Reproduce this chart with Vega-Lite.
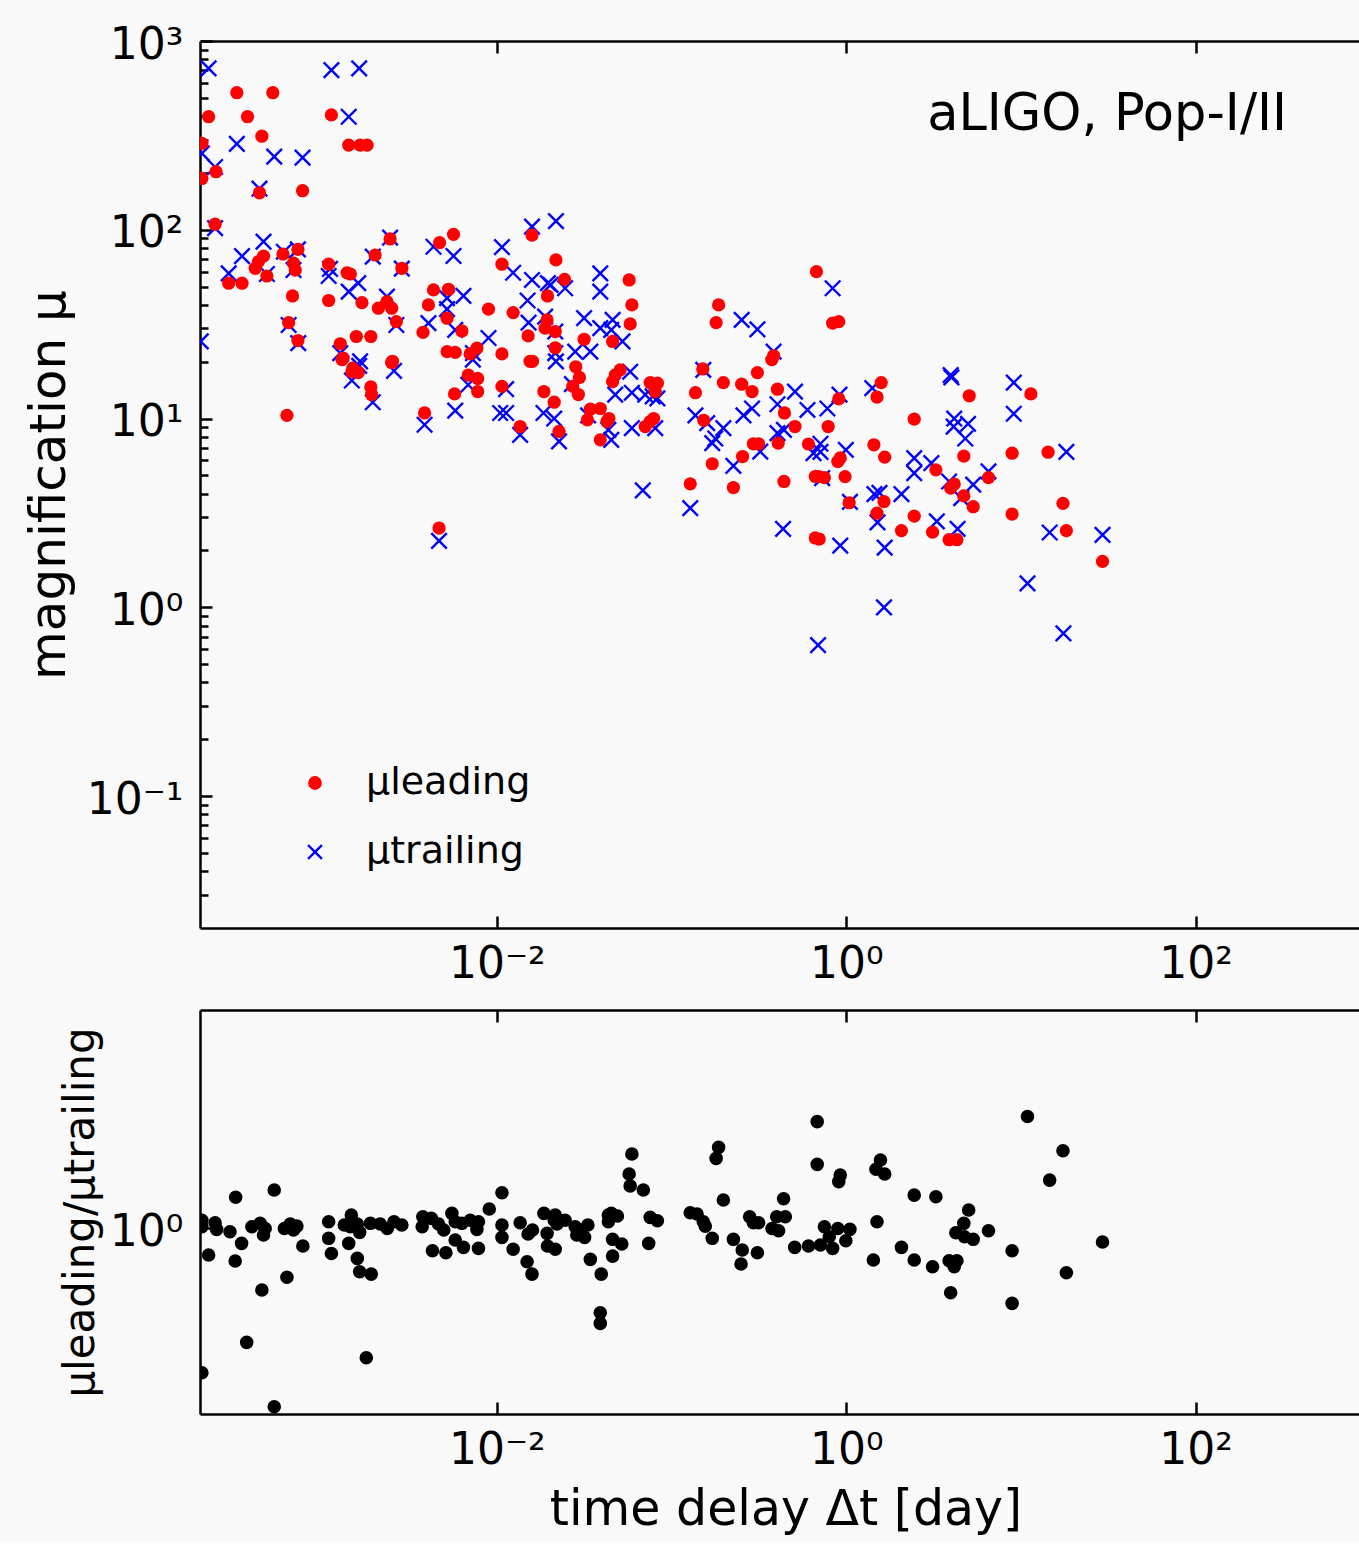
{
  "$schema": "https://vega.github.io/schema/vega-lite/v6.json",
  "background": "#f9f9f9",
  "padding": {"left": 24, "top": 23, "right": 0, "bottom": 8},
  "bounds": "flush",
  "spacing": 82,
  "config": {
    "font": "DejaVu Sans",
    "view": {"stroke": null},
    "axis": {"grid": false, "domainColor": "#000", "domainWidth": 2.5, "tickColor": "#000", "tickWidth": 2.5, "labelColor": "#000", "titleColor": "#000", "labelFont": "DejaVu Sans", "titleFont": "DejaVu Sans", "titleFontWeight": "normal", "labelFontSize": 44, "titleFontSize": 50, "labelFlush": false, "labelOverlap": false, "zindex": 1}
  },
  "datasets": {
    "leading": [
      {"t":3.25e-4,"mu":532,"series":"μleading"},{"t":5.22e-4,"mu":532,"series":"μleading"},{"t":2.24e-4,"mu":397,"series":"μleading"},{"t":3.74e-4,"mu":397,"series":"μleading"},{"t":1.13e-3,"mu":406,"series":"μleading"},{"t":4.52e-4,"mu":313,"series":"μleading"},{"t":2.05e-4,"mu":287,"series":"μleading"},{"t":1.42e-3,"mu":281,"series":"μleading"},{"t":1.65e-3,"mu":281,"series":"μleading"},{"t":1.81e-3,"mu":281,"series":"μleading"},
      {"t":2.47e-4,"mu":203,"series":"μleading"},{"t":2.05e-4,"mu":187,"series":"μleading"},{"t":4.38e-4,"mu":157,"series":"μleading"},{"t":7.73e-4,"mu":161,"series":"μleading"},{"t":2.44e-4,"mu":107,"series":"μleading"},{"t":5.65e-3,"mu":94.6,"series":"μleading"},{"t":2.45e-3,"mu":89.4,"series":"μleading"},{"t":4.70e-3,"mu":85.5,"series":"μleading"},{"t":7.27e-4,"mu":78.7,"series":"μleading"},{"t":5.97e-4,"mu":74.4,"series":"μleading"},
      {"t":4.62e-4,"mu":72.5,"series":"μleading"},{"t":4.32e-4,"mu":67.8,"series":"μleading"},{"t":4.14e-4,"mu":62.5,"series":"μleading"},{"t":6.86e-4,"mu":66.5,"series":"μleading"},{"t":7.02e-4,"mu":61.2,"series":"μleading"},{"t":4.83e-4,"mu":56.9,"series":"μleading"},{"t":2.92e-4,"mu":52.1,"series":"μleading"},{"t":3.48e-4,"mu":52.1,"series":"μleading"},{"t":1.09e-3,"mu":65.7,"series":"μleading"},{"t":1.39e-3,"mu":59.2,"series":"μleading"},
      {"t":1.45e-3,"mu":58.3,"series":"μleading"},{"t":2.01e-3,"mu":73.5,"series":"μleading"},{"t":2.86e-3,"mu":62.5,"series":"μleading"},{"t":1.07e-2,"mu":65.7,"series":"μleading"},{"t":1.24e-2,"mu":36.4,"series":"μleading"},{"t":1.09e-3,"mu":42.2,"series":"μleading"},{"t":6.77e-4,"mu":44.6,"series":"μleading"},{"t":1.69e-3,"mu":41.1,"series":"μleading"},{"t":2.10e-3,"mu":38.4,"series":"μleading"},{"t":2.35e-3,"mu":41.6,"series":"μleading"},
      {"t":2.50e-3,"mu":38.4,"series":"μleading"},{"t":2.66e-3,"mu":32.6,"series":"μleading"},{"t":4.34e-3,"mu":48.0,"series":"μleading"},{"t":5.29e-3,"mu":48.4,"series":"μleading"},{"t":4.06e-3,"mu":40.0,"series":"μleading"},{"t":5.19e-3,"mu":34.0,"series":"μleading"},{"t":6.31e-3,"mu":29.1,"series":"μleading"},{"t":8.96e-3,"mu":38.0,"series":"μleading"},{"t":3.78e-3,"mu":28.6,"series":"μleading"},{"t":6.43e-4,"mu":32.2,"series":"μleading"},
      {"t":7.27e-4,"mu":25.9,"series":"μleading"},{"t":1.57e-3,"mu":27.2,"series":"μleading"},{"t":1.90e-3,"mu":27.2,"series":"μleading"},{"t":1.27e-3,"mu":24.9,"series":"μleading"},{"t":1.32e-3,"mu":20.9,"series":"μleading"},{"t":5.19e-3,"mu":22.6,"series":"μleading"},{"t":5.78e-3,"mu":22.4,"series":"μleading"},{"t":7.04e-3,"mu":22.0,"series":"μleading"},{"t":7.69e-3,"mu":23.6,"series":"μleading"},{"t":1.07e-2,"mu":22.0,"series":"μleading"},
      {"t":2.53e-3,"mu":20.1,"series":"μleading"},{"t":1.50e-3,"mu":18.5,"series":"μleading"},{"t":1.59e-2,"mu":93.8,"series":"μleading"},{"t":2.18e-2,"mu":69.2,"series":"μleading"},{"t":2.44e-2,"mu":54.6,"series":"μleading"},{"t":5.72e-2,"mu":54.2,"series":"μleading"},{"t":1.95e-2,"mu":44.6,"series":"μleading"},{"t":5.93e-2,"mu":40.0,"series":"μleading"},{"t":1.94e-2,"mu":33.3,"series":"μleading"},{"t":1.89e-2,"mu":30.1,"series":"μleading"},
      {"t":2.16e-2,"mu":28.9,"series":"μleading"},{"t":5.80e-2,"mu":31.7,"series":"μleading"},{"t":0.186,"mu":40.0,"series":"μleading"},{"t":0.180,"mu":32.2,"series":"μleading"},{"t":1.51e-2,"mu":27.4,"series":"μleading"},{"t":3.16e-2,"mu":26.3,"series":"μleading"},{"t":4.60e-2,"mu":25.6,"series":"μleading"},{"t":2.16e-2,"mu":23.7,"series":"μleading"},{"t":0.384,"mu":21.5,"series":"μleading"},{"t":0.675,"mu":60.0,"series":"μleading"},
      {"t":0.836,"mu":32.0,"series":"μleading"},{"t":0.906,"mu":32.6,"series":"μleading"},{"t":1.55e-2,"mu":20.1,"series":"μleading"},{"t":1.60e-2,"mu":20.1,"series":"μleading"},{"t":2.83e-2,"mu":18.8,"series":"μleading"},{"t":2.97e-2,"mu":16.5,"series":"μleading"},{"t":2.72e-2,"mu":14.8,"series":"μleading"},{"t":2.93e-2,"mu":13.4,"series":"μleading"},{"t":1.86e-2,"mu":13.9,"series":"μleading"},{"t":2.13e-2,"mu":12.2,"series":"μleading"},
      {"t":4.76e-2,"mu":17.0,"series":"μleading"},{"t":5.08e-2,"mu":18.1,"series":"μleading"},{"t":4.60e-2,"mu":15.7,"series":"μleading"},{"t":7.55e-2,"mu":15.5,"series":"μleading"},{"t":8.30e-2,"mu":15.4,"series":"μleading"},{"t":8.07e-2,"mu":13.9,"series":"μleading"},{"t":3.43e-2,"mu":11.2,"series":"μleading"},{"t":3.91e-2,"mu":11.3,"series":"μleading"},{"t":3.30e-2,"mu":9.84,"series":"μleading"},{"t":4.38e-2,"mu":10.0,"series":"μleading"},
      {"t":4.27e-2,"mu":9.64,"series":"μleading"},{"t":7.07e-2,"mu":9.07,"series":"μleading"},{"t":7.55e-2,"mu":9.64,"series":"μleading"},{"t":7.90e-2,"mu":10.0,"series":"μleading"},{"t":1.36e-2,"mu":9.07,"series":"μleading"},{"t":2.27e-2,"mu":8.54,"series":"μleading"},{"t":3.91e-2,"mu":7.71,"series":"μleading"},{"t":0.151,"mu":18.3,"series":"μleading"},{"t":0.198,"mu":15.5,"series":"μleading"},{"t":0.252,"mu":15.2,"series":"μleading"},
      {"t":0.289,"mu":13.9,"series":"μleading"},{"t":0.310,"mu":17.5,"series":"μleading"},{"t":0.137,"mu":13.7,"series":"μleading"},{"t":0.153,"mu":9.77,"series":"μleading"},{"t":0.404,"mu":14.3,"series":"μleading"},{"t":0.443,"mu":10.7,"series":"μleading"},{"t":0.509,"mu":9.07,"series":"μleading"},{"t":0.294,"mu":7.35,"series":"μleading"},{"t":0.315,"mu":7.35,"series":"μleading"},{"t":0.255,"mu":6.29,"series":"μleading"},
      {"t":0.408,"mu":7.41,"series":"μleading"},{"t":0.608,"mu":7.33,"series":"μleading"},{"t":0.171,"mu":5.76,"series":"μleading"},{"t":0.128,"mu":4.51,"series":"μleading"},{"t":0.226,"mu":4.31,"series":"μleading"},{"t":0.440,"mu":4.64,"series":"μleading"},{"t":0.665,"mu":4.93,"series":"μleading"},{"t":0.665,"mu":2.33,"series":"μleading"},{"t":0.375,"mu":20.5,"series":"μleading"},{"t":6.29e-4,"mu":10.4,"series":"μleading"},
      {"t":3.86e-3,"mu":10.7,"series":"μleading"},{"t":5.73e-3,"mu":13.5,"series":"μleading"},{"t":6.86e-3,"mu":17.0,"series":"μleading"},{"t":7.77e-3,"mu":16.3,"series":"μleading"},{"t":7.77e-3,"mu":13.9,"series":"μleading"},{"t":1.07e-2,"mu":14.8,"series":"μleading"},{"t":2.50e-3,"mu":19.8,"series":"μleading"},{"t":1.48e-3,"mu":17.7,"series":"μleading"},{"t":1.61e-3,"mu":17.5,"series":"μleading"},{"t":1.90e-3,"mu":14.7,"series":"μleading"},
      {"t":1.92e-3,"mu":13.4,"series":"μleading"},{"t":1.30e-3,"mu":20.5,"series":"μleading"},{"t":4.67e-3,"mu":2.63,"series":"μleading"},{"t":1.586,"mu":15.5,"series":"μleading"},{"t":1.50,"mu":13.0,"series":"μleading"},{"t":0.906,"mu":12.7,"series":"μleading"},{"t":5.06,"mu":13.2,"series":"μleading"},{"t":11.4,"mu":13.5,"series":"μleading"},{"t":2.45,"mu":9.92,"series":"μleading"},{"t":0.788,"mu":9.07,"series":"μleading"},
      {"t":1.44,"mu":7.26,"series":"μleading"},{"t":1.66,"mu":6.24,"series":"μleading"},{"t":4.71,"mu":6.32,"series":"μleading"},{"t":8.9,"mu":6.55,"series":"μleading"},{"t":14.3,"mu":6.63,"series":"μleading"},{"t":0.895,"mu":5.92,"series":"μleading"},{"t":0.924,"mu":6.18,"series":"μleading"},{"t":3.26,"mu":5.35,"series":"μleading"},{"t":0.696,"mu":4.92,"series":"μleading"},{"t":0.75,"mu":4.86,"series":"μleading"},
      {"t":0.985,"mu":4.92,"series":"μleading"},{"t":6.52,"mu":4.86,"series":"μleading"},{"t":3.96,"mu":4.28,"series":"μleading"},{"t":4.15,"mu":4.5,"series":"μleading"},{"t":4.71,"mu":3.89,"series":"μleading"},{"t":5.33,"mu":3.41,"series":"μleading"},{"t":1.04,"mu":3.58,"series":"μleading"},{"t":1.645,"mu":3.63,"series":"μleading"},{"t":1.50,"mu":3.15,"series":"μleading"},{"t":2.45,"mu":3.04,"series":"μleading"},
      {"t":8.9,"mu":3.12,"series":"μleading"},{"t":17.4,"mu":3.55,"series":"μleading"},{"t":2.07,"mu":2.55,"series":"μleading"},{"t":3.12,"mu":2.5,"series":"μleading"},{"t":3.88,"mu":2.28,"series":"μleading"},{"t":4.3,"mu":2.28,"series":"μleading"},{"t":0.70,"mu":2.3,"series":"μleading"},{"t":18.2,"mu":2.55,"series":"μleading"},{"t":29.3,"mu":1.75,"series":"μleading"}
    ],
    "trailing": [
      {"t":2.24e-4,"mu":716,"series":"μtrailing"},{"t":1.13e-3,"mu":701,"series":"μtrailing"},{"t":1.63e-3,"mu":716,"series":"μtrailing"},{"t":1.42e-3,"mu":397,"series":"μtrailing"},{"t":3.25e-4,"mu":285,"series":"μtrailing"},{"t":5.32e-4,"mu":244,"series":"μtrailing"},{"t":7.73e-4,"mu":241,"series":"μtrailing"},{"t":2.05e-4,"mu":254,"series":"μtrailing"},{"t":2.44e-4,"mu":215,"series":"μtrailing"},{"t":4.38e-4,"mu":165,"series":"μtrailing"},
      {"t":2.44e-4,"mu":102,"series":"μtrailing"},{"t":4.62e-4,"mu":86.5,"series":"μtrailing"},{"t":3.48e-4,"mu":72.5,"series":"μtrailing"},{"t":2.92e-4,"mu":58.8,"series":"μtrailing"},{"t":6.04e-4,"mu":76.5,"series":"μtrailing"},{"t":7.27e-4,"mu":78.7,"series":"μtrailing"},{"t":4.83e-4,"mu":58.3,"series":"μtrailing"},{"t":6.86e-4,"mu":61.2,"series":"μtrailing"},{"t":1.09e-3,"mu":56.9,"series":"μtrailing"},{"t":1.11e-3,"mu":62,"series":"μtrailing"},
      {"t":1.42e-3,"mu":47.0,"series":"μtrailing"},{"t":1.61e-3,"mu":52.1,"series":"μtrailing"},{"t":1.95e-3,"mu":72.0,"series":"μtrailing"},{"t":2.45e-3,"mu":90.8,"series":"μtrailing"},{"t":2.86e-3,"mu":62.2,"series":"μtrailing"},{"t":4.34e-3,"mu":81.3,"series":"μtrailing"},{"t":5.65e-3,"mu":72.6,"series":"μtrailing"},{"t":1.07e-2,"mu":81,"series":"μtrailing"},{"t":1.24e-2,"mu":59.2,"series":"μtrailing"},{"t":2.35e-3,"mu":44.2,"series":"μtrailing"},
      {"t":5.19e-3,"mu":43.4,"series":"μtrailing"},{"t":6.44e-3,"mu":44.6,"series":"μtrailing"},{"t":4.06e-3,"mu":32.0,"series":"μtrailing"},{"t":5.78e-3,"mu":29.5,"series":"μtrailing"},{"t":8.96e-3,"mu":26.7,"series":"μtrailing"},{"t":2.66e-3,"mu":31.3,"series":"μtrailing"},{"t":6.43e-4,"mu":31.3,"series":"μtrailing"},{"t":7.30e-4,"mu":25.1,"series":"μtrailing"},{"t":1.27e-3,"mu":22.2,"series":"μtrailing"},{"t":1.65e-3,"mu":20.1,"series":"μtrailing"},
      {"t":7.30e-3,"mu":22.2,"series":"μtrailing"},{"t":2.02e-4,"mu":25.6,"series":"μtrailing"},{"t":5.19e-3,"mu":38,"series":"μtrailing"},{"t":2.18e-2,"mu":111,"series":"μtrailing"},{"t":1.59e-2,"mu":104,"series":"μtrailing"},{"t":1.59e-2,"mu":54.2,"series":"μtrailing"},{"t":1.96e-2,"mu":52.1,"series":"μtrailing"},{"t":2.03e-2,"mu":51.1,"series":"μtrailing"},{"t":2.46e-2,"mu":49.0,"series":"μtrailing"},{"t":3.91e-2,"mu":58.8,"series":"μtrailing"},
      {"t":3.91e-2,"mu":47.0,"series":"μtrailing"},{"t":1.50e-2,"mu":42.2,"series":"μtrailing"},{"t":1.52e-2,"mu":32.2,"series":"μtrailing"},{"t":1.89e-2,"mu":34.7,"series":"μtrailing"},{"t":2.16e-2,"mu":28.9,"series":"μtrailing"},{"t":3.16e-2,"mu":34.0,"series":"μtrailing"},{"t":3.91e-2,"mu":30.1,"series":"μtrailing"},{"t":4.60e-2,"mu":33.3,"series":"μtrailing"},{"t":4.52e-2,"mu":29.5,"series":"μtrailing"},{"t":5.24e-2,"mu":25.6,"series":"μtrailing"},
      {"t":2.81e-2,"mu":22.6,"series":"μtrailing"},{"t":3.43e-2,"mu":22.6,"series":"μtrailing"},{"t":2.16e-2,"mu":22.2,"series":"μtrailing"},{"t":0.252,"mu":33.3,"series":"μtrailing"},{"t":0.310,"mu":29.7,"series":"μtrailing"},{"t":0.384,"mu":22.6,"series":"μtrailing"},{"t":2.18e-2,"mu":20.1,"series":"μtrailing"},{"t":5.80e-2,"mu":17.7,"series":"μtrailing"},{"t":2.69e-2,"mu":15.2,"series":"μtrailing"},{"t":1.13e-2,"mu":14.3,"series":"μtrailing"},
      {"t":4.76e-2,"mu":13.4,"series":"μtrailing"},{"t":5.93e-2,"mu":13.7,"series":"μtrailing"},{"t":7.07e-2,"mu":13.4,"series":"μtrailing"},{"t":7.80e-2,"mu":13.1,"series":"μtrailing"},{"t":8.30e-2,"mu":12.8,"series":"μtrailing"},{"t":1.85e-2,"mu":10.7,"series":"μtrailing"},{"t":2.13e-2,"mu":10.0,"series":"μtrailing"},{"t":1.13e-2,"mu":10.7,"series":"μtrailing"},{"t":1.36e-2,"mu":8.2,"series":"μtrailing"},{"t":2.27e-2,"mu":7.56,"series":"μtrailing"},
      {"t":3.33e-2,"mu":10.4,"series":"μtrailing"},{"t":4.52e-2,"mu":7.71,"series":"μtrailing"},{"t":4.35e-2,"mu":8.71,"series":"μtrailing"},{"t":5.93e-2,"mu":8.89,"series":"μtrailing"},{"t":8.07e-2,"mu":8.89,"series":"μtrailing"},{"t":0.152,"mu":18.1,"series":"μtrailing"},{"t":0.137,"mu":10.4,"series":"μtrailing"},{"t":0.160,"mu":9.46,"series":"μtrailing"},{"t":0.198,"mu":8.89,"series":"μtrailing"},{"t":0.178,"mu":7.84,"series":"μtrailing"},
      {"t":0.171,"mu":7.41,"series":"μtrailing"},{"t":0.258,"mu":10.4,"series":"μtrailing"},{"t":0.289,"mu":11.3,"series":"μtrailing"},{"t":0.404,"mu":11.9,"series":"μtrailing"},{"t":0.509,"mu":13.9,"series":"μtrailing"},{"t":0.600,"mu":11.1,"series":"μtrailing"},{"t":0.440,"mu":8.71,"series":"μtrailing"},{"t":0.404,"mu":8.36,"series":"μtrailing"},{"t":0.322,"mu":6.68,"series":"μtrailing"},{"t":0.226,"mu":5.61,"series":"μtrailing"},
      {"t":0.650,"mu":6.55,"series":"μtrailing"},{"t":0.0685,"mu":4.16,"series":"μtrailing"},{"t":0.128,"mu":3.35,"series":"μtrailing"},{"t":0.435,"mu":2.6,"series":"μtrailing"},{"t":0.69,"mu":0.63,"series":"μtrailing"},{"t":3.96,"mu":17.0,"series":"μtrailing"},{"t":4.0,"mu":16.5,"series":"μtrailing"},{"t":9.1,"mu":15.5,"series":"μtrailing"},{"t":1.41,"mu":14.5,"series":"μtrailing"},{"t":0.915,"mu":13.4,"series":"μtrailing"},
      {"t":0.78,"mu":11.3,"series":"μtrailing"},{"t":9.1,"mu":10.6,"series":"μtrailing"},{"t":4.15,"mu":10.0,"series":"μtrailing"},{"t":4.12,"mu":9.07,"series":"μtrailing"},{"t":4.98,"mu":9.38,"series":"μtrailing"},{"t":4.8,"mu":7.84,"series":"μtrailing"},{"t":0.712,"mu":7.35,"series":"μtrailing"},{"t":0.712,"mu":6.66,"series":"μtrailing"},{"t":0.995,"mu":6.82,"series":"μtrailing"},{"t":18.2,"mu":6.66,"series":"μtrailing"},
      {"t":2.45,"mu":6.17,"series":"μtrailing"},{"t":2.45,"mu":5.14,"series":"μtrailing"},{"t":3.07,"mu":5.8,"series":"μtrailing"},{"t":6.52,"mu":5.25,"series":"μtrailing"},{"t":3.88,"mu":4.64,"series":"μtrailing"},{"t":5.33,"mu":4.47,"series":"μtrailing"},{"t":0.728,"mu":4.83,"series":"μtrailing"},{"t":1.55,"mu":4.04,"series":"μtrailing"},{"t":1.45,"mu":3.98,"series":"μtrailing"},{"t":2.07,"mu":3.98,"series":"μtrailing"},
      {"t":1.05,"mu":3.62,"series":"μtrailing"},{"t":4.55,"mu":3.79,"series":"μtrailing"},{"t":1.51,"mu":2.82,"series":"μtrailing"},{"t":3.30,"mu":2.85,"series":"μtrailing"},{"t":4.34,"mu":2.6,"series":"μtrailing"},{"t":14.6,"mu":2.49,"series":"μtrailing"},{"t":29.3,"mu":2.42,"series":"μtrailing"},{"t":0.924,"mu":2.12,"series":"μtrailing"},{"t":1.66,"mu":2.07,"series":"μtrailing"},{"t":10.9,"mu":1.34,"series":"μtrailing"},
      {"t":1.645,"mu":1.0,"series":"μtrailing"},{"t":17.5,"mu":0.728,"series":"μtrailing"},{"t":1.48e-3,"mu":15.9,"series":"μtrailing"},{"t":1.63e-3,"mu":19.0,"series":"μtrailing"},{"t":2.58e-3,"mu":17.9,"series":"μtrailing"},{"t":1.95e-3,"mu":12.2,"series":"μtrailing"},{"t":3.86e-3,"mu":9.27,"series":"μtrailing"},{"t":5.78e-3,"mu":11.0,"series":"μtrailing"},{"t":6.86e-3,"mu":15.1,"series":"μtrailing"},{"t":1.045e-2,"mu":10.7,"series":"μtrailing"},
      {"t":4.67e-3,"mu":2.25,"series":"μtrailing"},{"t":7.29e-3,"mu":20.5,"series":"μtrailing"},{"t":0.836,"mu":49.0,"series":"μtrailing"}
    ],
    "ratio": [
      {"t":2.05e-4,"r":1.19},{"t":2.05e-4,"r":1.036},{"t":2.44e-4,"r":1.128},{"t":2.49e-4,"r":0.981},{"t":2.24e-4,"r":0.571},{"t":2.97e-4,"r":0.933},{"t":3.2e-4,"r":1.93},{"t":3.46e-4,"r":0.73},{"t":3.18e-4,"r":0.503},{"t":3.70e-4,"r":0.0906},
      {"t":2.05e-4,"r":0.0477},{"t":3.96e-4,"r":1.036},{"t":4.42e-4,"r":1.114},{"t":4.72e-4,"r":1.0},{"t":4.62e-4,"r":0.87},{"t":5.32e-4,"r":2.25},{"t":5.32e-4,"r":0.0233},{"t":4.52e-4,"r":0.273},{"t":6.29e-4,"r":0.357},{"t":6.08e-4,"r":1.0},
      {"t":6.57e-4,"r":1.097},{"t":7.17e-4,"r":1.05},{"t":6.86e-4,"r":0.967},{"t":7.76e-4,"r":0.69},{"t":1.09e-3,"r":1.152},{"t":1.09e-3,"r":0.812},{"t":1.13e-3,"r":0.59},{"t":1.47e-3,"r":1.327},{"t":1.34e-3,"r":1.074},{"t":1.45e-3,"r":1.036},
      {"t":1.59e-3,"r":1.097},{"t":1.64e-3,"r":0.921},{"t":1.42e-3,"r":0.73},{"t":1.59e-3,"r":0.532},{"t":1.64e-3,"r":0.401},{"t":1.91e-3,"r":0.382},{"t":1.79e-3,"r":0.0654},{"t":1.89e-3,"r":1.114},{"t":2.15e-3,"r":1.097},{"t":2.36e-3,"r":1.0},
      {"t":2.58e-3,"r":1.152},{"t":2.86e-3,"r":1.074},{"t":3.77e-3,"r":1.28},{"t":3.74e-3,"r":1.036},{"t":4.22e-3,"r":1.237},{"t":4.64e-3,"r":1.097},{"t":4.97e-3,"r":0.967},{"t":5.53e-3,"r":1.375},{"t":5.78e-3,"r":1.152},{"t":6.31e-3,"r":1.114},
      {"t":7.04e-3,"r":1.19},{"t":7.85e-3,"r":1.152},{"t":7.69e-3,"r":0.981},{"t":4.28e-3,"r":0.625},{"t":5.11e-3,"r":0.599},{"t":5.78e-3,"r":0.783},{"t":6.44e-3,"r":0.671},{"t":7.85e-3,"r":0.657},{"t":9.05e-3,"r":1.505},{"t":1.07e-2,"r":2.124},
      {"t":1.07e-2,"r":1.074},{"t":1.07e-2,"r":0.829},{"t":1.24e-2,"r":0.644},{"t":1.36e-2,"r":1.128},{"t":1.49e-2,"r":0.496},{"t":1.59e-2,"r":0.382},{"t":1.51e-2,"r":0.889},{"t":1.60e-2,"r":0.967},{"t":1.86e-2,"r":1.375},{"t":2.16e-2,"r":1.327},
      {"t":2.21e-2,"r":1.097},{"t":1.94e-2,"r":0.902},{"t":2.46e-2,"r":1.19},{"t":2.13e-2,"r":1.19},{"t":1.95e-2,"r":0.69},{"t":2.16e-2,"r":0.644},{"t":2.81e-2,"r":1.036},{"t":2.87e-2,"r":0.87},{"t":3.18e-2,"r":0.829},{"t":3.32e-2,"r":1.074},
      {"t":3.0e-2,"r":0.967},{"t":3.43e-2,"r":0.521},{"t":3.96e-2,"r":0.382},{"t":3.91e-2,"r":0.169},{"t":3.91e-2,"r":0.135},{"t":4.35e-2,"r":1.152},{"t":4.52e-2,"r":1.375},{"t":4.90e-2,"r":1.299},{"t":4.35e-2,"r":1.327},{"t":4.60e-2,"r":0.795},
      {"t":5.19e-2,"r":0.72},{"t":4.60e-2,"r":0.558},{"t":5.93e-2,"r":4.80},{"t":5.72e-2,"r":3.15},{"t":5.80e-2,"r":2.45},{"t":6.90e-2,"r":2.25},{"t":7.40e-2,"r":0.73},{"t":7.55e-2,"r":1.264},{"t":8.30e-2,"r":1.176},{"t":0.128,"r":1.393},
      {"t":0.14,"r":1.355},{"t":0.152,"r":1.152},{"t":0.156,"r":1.05},{"t":0.171,"r":0.812},{"t":0.186,"r":5.53},{"t":0.18,"r":4.38},{"t":0.198,"r":1.82},{"t":0.226,"r":0.795},{"t":0.254,"r":0.634},{"t":0.25,"r":0.472},
      {"t":0.31,"r":0.599},{"t":0.28,"r":1.28},{"t":0.294,"r":1.128},{"t":0.315,"r":1.128},{"t":0.438,"r":1.87},{"t":0.40,"r":1.28},{"t":0.448,"r":1.28},{"t":0.376,"r":1.0},{"t":0.41,"r":0.953},{"t":0.507,"r":0.671},
      {"t":0.608,"r":0.69},{"t":0.682,"r":9.5},{"t":0.682,"r":3.86},{"t":0.924,"r":3.08},{"t":0.906,"r":2.68},{"t":1.57,"r":4.23},{"t":1.48,"r":3.48},{"t":1.66,"r":3.15},{"t":2.45,"r":2.02},{"t":3.26,"r":1.95},
      {"t":5.02,"r":1.474},{"t":4.71,"r":1.114},{"t":4.24,"r":0.913},{"t":4.75,"r":0.839},{"t":5.33,"r":0.795},{"t":6.52,"r":0.953},{"t":0.75,"r":1.036},{"t":0.895,"r":1.0},{"t":1.05,"r":0.981},{"t":0.80,"r":0.839},
      {"t":0.712,"r":0.705},{"t":0.836,"r":0.657},{"t":0.995,"r":0.772},{"t":1.5,"r":1.152},{"t":1.43,"r":0.514},{"t":2.07,"r":0.671},{"t":2.45,"r":0.514},{"t":3.12,"r":0.446},{"t":3.88,"r":0.506},{"t":4.15,"r":0.446},
      {"t":4.3,"r":0.506},{"t":3.96,"r":0.258},{"t":8.9,"r":0.625},{"t":8.9,"r":0.206},{"t":10.9,"r":10.6},{"t":17.4,"r":5.15},{"t":14.6,"r":2.77},{"t":18.2,"r":0.393},{"t":29.3,"r":0.751}
    ],
    "note": [{"t": 334, "mu": 337, "label": "aLIGO, Pop-I/II"}]
  },
  "vconcat": [
    {
      "width": 1159,
      "height": 887,
      "resolve": {"axis": {"x": "independent", "y": "independent"}},
      "layer": [
        {
          "data": {"name": "trailing"},
          "mark": {"type": "point", "size": 240, "strokeWidth": 2.4, "opacity": 1, "clip": true},
          "encoding": {
            "x": {"field": "t", "type": "quantitative", "scale": {"type": "log", "domain": [0.0002, 861]}, "axis": {"orient": "top", "values": [0.01, 1, 100], "tickSize": -12, "labels": false, "title": null}},
            "y": {"field": "mu", "type": "quantitative", "scale": {"type": "log", "domain": [0.02, 1000]}, "axis": {"orient": "left", "values": [0.03,0.04,0.05,0.06,0.07,0.08,0.09,0.2,0.3,0.4,0.5,0.6,0.7,0.8,0.9,2,3,4,5,6,7,8,9,20,30,40,50,60,70,80,90,200,300,400,500,600,700,800,900], "tickSize": -8, "labels": false, "domain": false, "title": null}},
            "shape": {"field": "series", "type": "nominal", "scale": {"domain": ["μleading", "μtrailing"], "range": ["circle", "M-1,-1L1,1M-1,1L1,-1"]}, "legend": {"orient": "none", "legendX": 96, "legendY": 723, "title": null, "labelFontSize": 38, "labelFont": "DejaVu Sans", "labelColor": "#000", "labelLimit": 500, "symbolSize": 190, "symbolStrokeWidth": 2.4, "rowPadding": 31, "labelOffset": 32, "padding": 0}},
            "fill": {"field": "series", "type": "nominal", "scale": {"domain": ["μleading", "μtrailing"], "range": ["#ff0000", "transparent"]}, "legend": {"orient": "none", "legendX": 96, "legendY": 723, "title": null, "labelFontSize": 38, "labelFont": "DejaVu Sans", "labelColor": "#000", "labelLimit": 500, "symbolSize": 190, "symbolStrokeWidth": 2.4, "rowPadding": 31, "labelOffset": 32, "padding": 0}},
            "stroke": {"field": "series", "type": "nominal", "scale": {"domain": ["μleading", "μtrailing"], "range": ["transparent", "#0000ff"]}, "legend": {"orient": "none", "legendX": 96, "legendY": 723, "title": null, "labelFontSize": 38, "labelFont": "DejaVu Sans", "labelColor": "#000", "labelLimit": 500, "symbolSize": 190, "symbolStrokeWidth": 2.4, "rowPadding": 31, "labelOffset": 32, "padding": 0}}
          }
        },
        {
          "data": {"name": "leading"},
          "mark": {"type": "point", "size": 175, "strokeWidth": 2.4, "opacity": 1, "clip": true},
          "encoding": {
            "x": {"field": "t", "type": "quantitative", "scale": {"type": "log", "domain": [0.0002, 861]}, "axis": {"orient": "bottom", "values": [0.01, 1, 100], "tickSize": -12, "labelPadding": 26, "labelExpr": "datum.value < 0.1 ? '10⁻²' : datum.value < 10 ? '10⁰' : '10²'", "title": null}},
            "y": {"field": "mu", "type": "quantitative", "scale": {"type": "log", "domain": [0.02, 1000]}, "axis": {"orient": "left", "values": [0.1, 1, 10, 100, 1000], "tickSize": -12, "labelPadding": 29, "labelOffset": 4, "labelExpr": "datum.value >= 999 ? '10³' : datum.value >= 99 ? '10²' : datum.value >= 9 ? '10¹' : datum.value >= 0.9 ? '10⁰' : '10⁻¹'", "title": "magnification μ", "titleX": -151, "titleBaseline": "middle", "titleFontSize": 50}},
            "shape": {"field": "series", "type": "nominal", "scale": {"domain": ["μleading", "μtrailing"], "range": ["circle", "M-1,-1L1,1M-1,1L1,-1"]}, "legend": {"orient": "none", "legendX": 96, "legendY": 723, "title": null, "labelFontSize": 38, "labelFont": "DejaVu Sans", "labelColor": "#000", "labelLimit": 500, "symbolSize": 190, "symbolStrokeWidth": 2.4, "rowPadding": 31, "labelOffset": 32, "padding": 0}},
            "fill": {"field": "series", "type": "nominal", "scale": {"domain": ["μleading", "μtrailing"], "range": ["#ff0000", "transparent"]}, "legend": {"orient": "none", "legendX": 96, "legendY": 723, "title": null, "labelFontSize": 38, "labelFont": "DejaVu Sans", "labelColor": "#000", "labelLimit": 500, "symbolSize": 190, "symbolStrokeWidth": 2.4, "rowPadding": 31, "labelOffset": 32, "padding": 0}},
            "stroke": {"field": "series", "type": "nominal", "scale": {"domain": ["μleading", "μtrailing"], "range": ["transparent", "#0000ff"]}, "legend": {"orient": "none", "legendX": 96, "legendY": 723, "title": null, "labelFontSize": 38, "labelFont": "DejaVu Sans", "labelColor": "#000", "labelLimit": 500, "symbolSize": 190, "symbolStrokeWidth": 2.4, "rowPadding": 31, "labelOffset": 32, "padding": 0}}
          }
        },
        {
          "data": {"name": "note"},
          "mark": {"type": "text", "align": "right", "baseline": "alphabetic", "fontSize": 51, "font": "DejaVu Sans", "color": "#000"},
          "encoding": {
            "x": {"field": "t", "type": "quantitative", "scale": {"type": "log", "domain": [0.0002, 861]}, "axis": null},
            "y": {"field": "mu", "type": "quantitative", "scale": {"type": "log", "domain": [0.02, 1000]}, "axis": null},
            "text": {"field": "label"}
          }
        }
      ]
    },
    {
      "width": 1159,
      "height": 404,
      "data": {"name": "ratio"},
      "resolve": {"axis": {"x": "independent", "y": "independent"}},
      "layer": [
        {
          "transform": [{"filter": "datum.t < 0.1"}],
          "mark": {"type": "point", "filled": true, "color": "#000", "size": 185, "opacity": 1, "clip": true},
          "encoding": {
            "x": {"field": "t", "type": "quantitative", "scale": {"type": "log", "domain": [0.0002, 861]}, "axis": {"orient": "top", "values": [0.01, 1, 100], "tickSize": -12, "labels": false, "title": null}},
            "y": {"field": "r", "type": "quantitative", "scale": {"type": "log", "domain": [0.02, 100]}, "axis": null}
          }
        },
        {
          "transform": [{"filter": "datum.t >= 0.1"}],
          "mark": {"type": "point", "filled": true, "color": "#000", "size": 185, "opacity": 1, "clip": true},
          "encoding": {
            "x": {"field": "t", "type": "quantitative", "scale": {"type": "log", "domain": [0.0002, 861]}, "axis": {"orient": "bottom", "values": [0.01, 1, 100], "tickSize": -12, "labelPadding": 26, "labelExpr": "datum.value < 0.1 ? '10⁻²' : datum.value < 10 ? '10⁰' : '10²'", "title": "time delay Δt [day]", "titleX": 585.5, "titleY": 110, "titleBaseline": "alphabetic", "titleFontSize": 49}},
            "y": {"field": "r", "type": "quantitative", "scale": {"type": "log", "domain": [0.02, 100]}, "axis": {"orient": "left", "values": [1], "tickSize": -12, "labelPadding": 29, "labelOffset": 4, "labelExpr": "'10⁰'", "title": "μleading/μtrailing", "titleX": -120, "titleBaseline": "middle", "titleFontSize": 42}}
          }
        }
      ]
    }
  ]
}
